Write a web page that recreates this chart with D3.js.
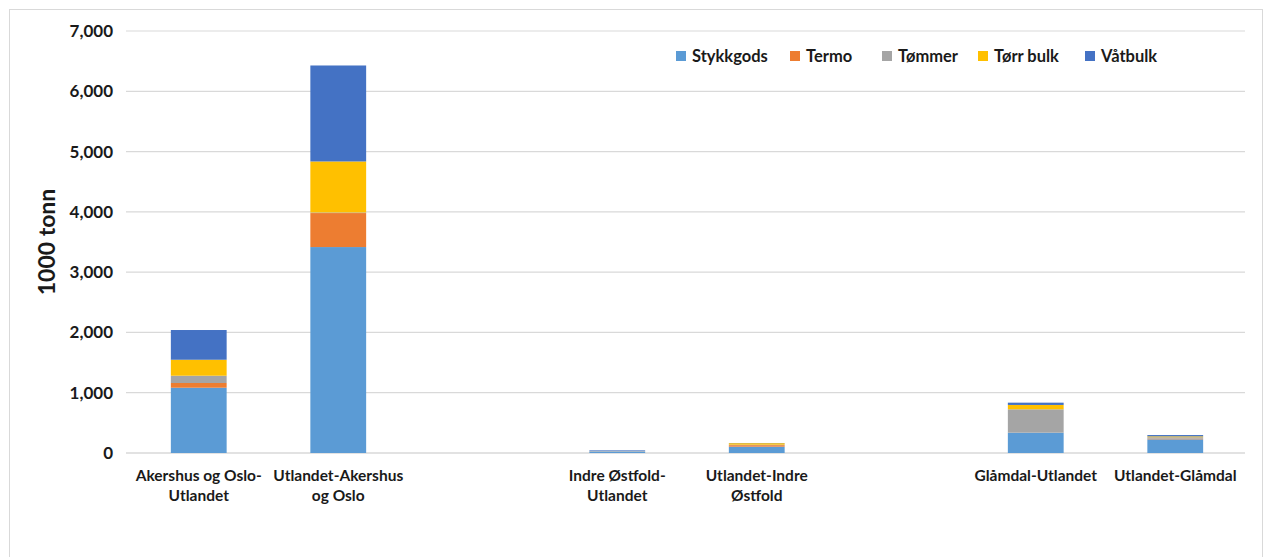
<!DOCTYPE html>
<html>
<head>
<meta charset="utf-8">
<script src="https://cdn.jsdelivr.net/npm/d3@7"></script>
<style>
  body { margin: 0; background: #fff; }
  text { font-family: Lato, "Open Sans", sans-serif; font-weight: bold; fill: #1a1a1a; }
</style>
</head>
<body>
<div id="chart"></div>
<script>
const svgWidth = 1266;
const svgHeight = 557;

// Categories (two empty slots keep the gaps between the regions)
const categories = ['a', 'b', 'gap1', 'c', 'd', 'gap2', 'e', 'f'];
const categoryLabels = [
  ['Akershus og Oslo-', 'Utlandet'],
  ['Utlandet-Akershus', 'og Oslo'],
  [],
  ['Indre Østfold-', 'Utlandet'],
  ['Utlandet-Indre', 'Østfold'],
  [],
  ['Glåmdal-Utlandet'],
  ['Utlandet-Glåmdal']
];

const seriesNames = ['Stykkgods', 'Termo', 'Tømmer', 'Tørr bulk', 'Våtbulk'];
const seriesColors = ['#5B9BD5', '#ED7D31', '#A5A5A5', '#FFC000', '#4472C4'];

// 1000 tonn per category
const stykkgods = [1083, 3416, 0, 25, 105, 0, 337, 227];
const termo     = [78, 564, 0, 0, 25, 0, 0, 10];
const tommer    = [121, 10, 0, 10, 8, 0, 388, 25];
const torrBulk  = [265, 846, 0, 0, 25, 0, 72, 14];
const vatbulk   = [493, 1592, 0, 10, 3, 0, 38, 22];

const yTicks = [0, 1000, 2000, 3000, 4000, 5000, 6000, 7000];

const margin = { top: 31, right: 21, bottom: 104, left: 129 };
const chartWidth = svgWidth - margin.left - margin.right;
const chartHeight = svgHeight - margin.top - margin.bottom;

const data = categories.map((c, i) => ({
  cat: c,
  'Stykkgods': stykkgods[i],
  'Termo': termo[i],
  'Tømmer': tommer[i],
  'Tørr bulk': torrBulk[i],
  'Våtbulk': vatbulk[i]
}));

const svg = d3.select('#chart').append('svg')
  .attr('width', svgWidth).attr('height', svgHeight);

// outer frame
svg.append('rect')
  .attr('x', 9.5).attr('y', 9.5)
  .attr('width', 1253).attr('height', 560)
  .attr('fill', 'none').attr('stroke', '#d9d9d9');

const g = svg.append('g').attr('transform', `translate(${margin.left},${margin.top})`);

const xScale = d3.scaleBand().domain(categories).range([0, chartWidth])
  .paddingInner(0.6).paddingOuter(0.3);
const yScale = d3.scaleLinear().domain([0, 7000]).range([chartHeight, 0]);

// gridlines
g.selectAll('line.grid')
  .data(yTicks)
  .enter()
  .append('line')
  .attr('class', 'grid')
  .attr('x1', -3).attr('x2', chartWidth)
  .attr('y1', d => yScale(d)).attr('y2', d => yScale(d))
  .attr('stroke', '#d9d9d9')
  .attr('stroke-width', d => d === 0 ? 1.5 : 1.2);

const stack = d3.stack().keys(seriesNames)(data);
const color = d3.scaleOrdinal().domain(seriesNames).range(seriesColors);

g.selectAll('g.layer')
  .data(stack)
  .enter()
  .append('g')
  .attr('fill', d => color(d.key))
  .selectAll('rect')
  .data(d => d)
  .enter()
  .append('rect')
  .attr('x', d => xScale(d.data.cat))
  .attr('y', d => yScale(d[1]))
  .attr('width', xScale.bandwidth())
  .attr('height', d => yScale(d[0]) - yScale(d[1]));

// y axis
const yAxis = g.append('g')
  .call(d3.axisLeft(yScale).tickValues(yTicks).tickFormat(d3.format(',')).tickSize(0).tickPadding(16));
yAxis.select('.domain').remove();
yAxis.selectAll('text')
  .style('font-size', '17px')
  .style('font-family', 'Lato, sans-serif')
  .style('font-weight', 'bold')
  .attr('fill', '#1a1a1a');

// x labels
const xLabels = g.append('g').attr('transform', `translate(0,${chartHeight})`);
categories.forEach((c, i) => {
  const t = xLabels.append('text')
    .attr('x', xScale(c) + xScale.bandwidth() / 2)
    .attr('y', 28)
    .attr('text-anchor', 'middle')
    .style('font-size', '15.5px');
  categoryLabels[i].forEach((line, j) => {
    t.append('tspan')
      .attr('x', xScale(c) + xScale.bandwidth() / 2)
      .attr('dy', j === 0 ? 0 : 20)
      .text(line);
  });
});

// y axis title
svg.append('text')
  .attr('transform', 'rotate(-90)')
  .attr('x', -(margin.top + chartHeight / 2))
  .attr('y', 55)
  .attr('text-anchor', 'middle')
  .style('font-size', '23px')
  .text('1000 tonn');

// legend
const legendX = [676, 790, 882, 978, 1085];
const legend = svg.append('g');
seriesNames.forEach((s, i) => {
  legend.append('rect')
    .attr('x', legendX[i]).attr('y', 51)
    .attr('width', 10).attr('height', 10)
    .attr('fill', seriesColors[i]);
  legend.append('text')
    .attr('x', legendX[i] + 16).attr('y', 62)
    .style('font-size', '16.5px')
    .text(s);
});
</script>
</body>
</html>
